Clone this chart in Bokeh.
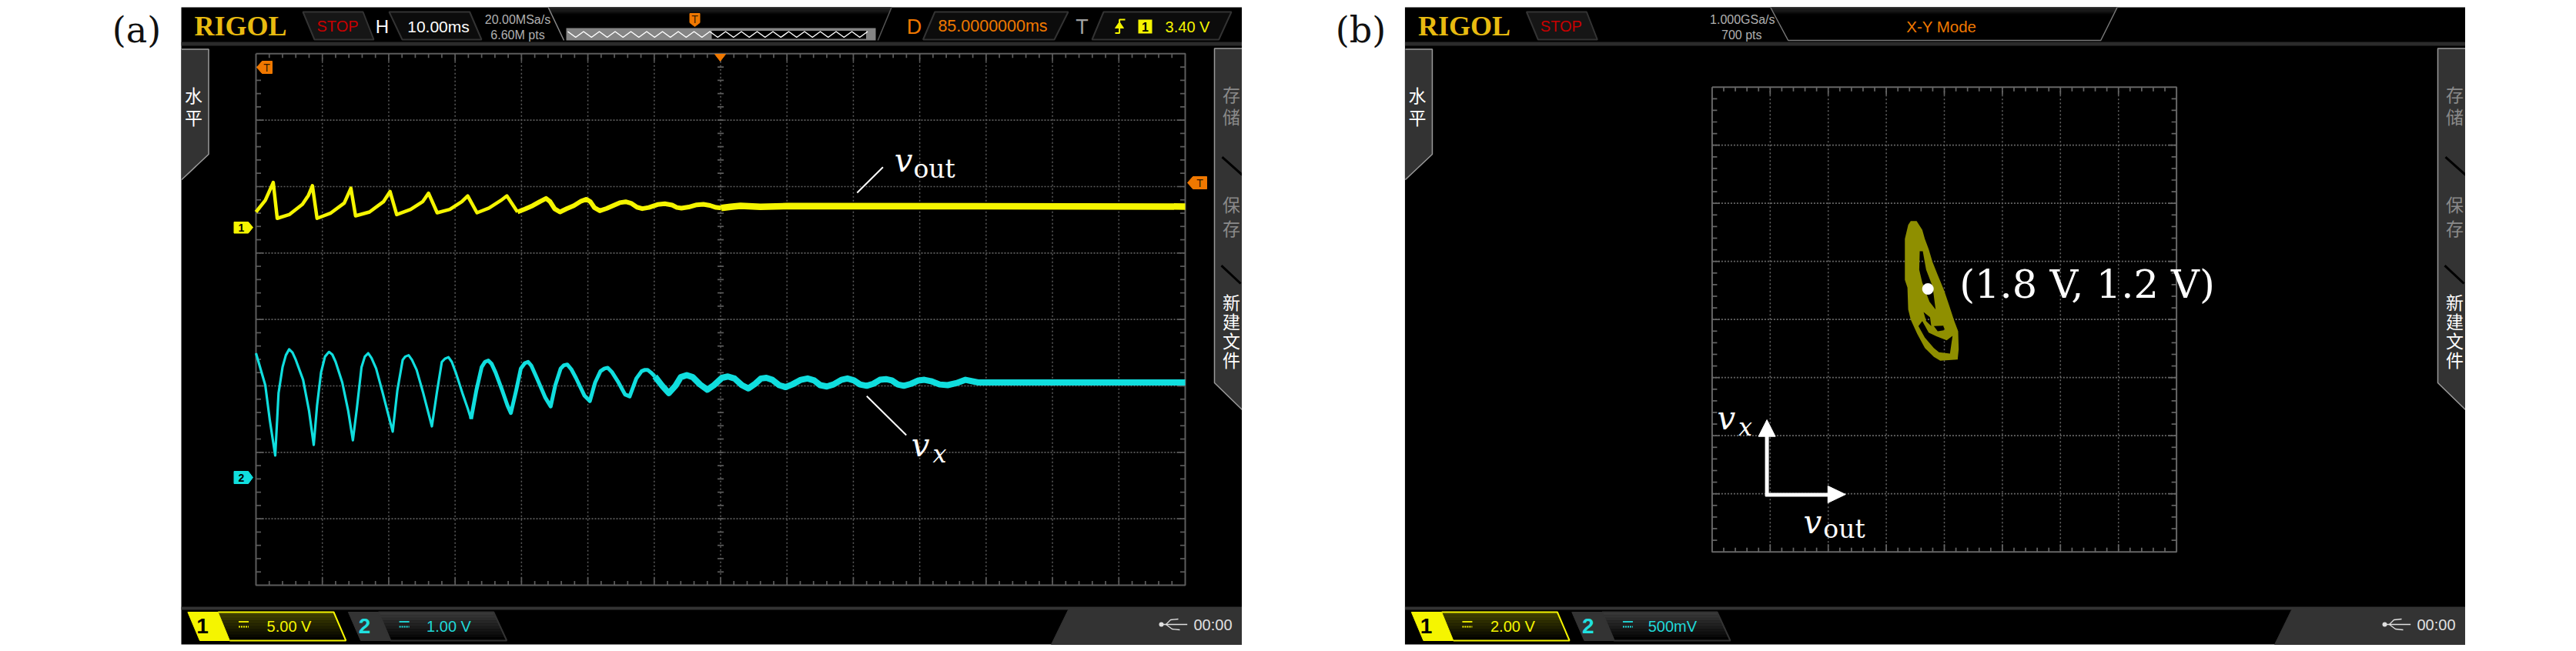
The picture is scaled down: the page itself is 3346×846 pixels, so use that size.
from bokeh.plotting import figure
from bokeh.models import Range1d
from bokeh.layouts import row
from bokeh.core.properties import value
from bokeh.embed import file_html
from bokeh.resources import INLINE
import numpy as np

# ---------- panel (a) time traces: time in ms, values in volts ----------
t_out = [15.0,16.4,17.6,18.2,20.0,22.0,22.9,23.5,24.2,26.2,28.3,29.3,30.0,32.1,34.2,35.2,36.2,38.3,40.1,41.0,
         42.3,44.2,46.0,46.9,48.3,50.1,51.9,52.8,
         54.4,55.5,56.7,57.8,58.7,59.3,60.0,60.8,61.8,62.9,64.0,64.8,65.4,66.0,66.8,67.8,68.8,69.8,70.7,71.5,
         72.4,73.2,74.2,75.5,76.6,77.7,78.4,79.1,80.2,81.4,82.4,83.4,84.3,85.1,86.5,88.0,91.0,95.0,155.0]
v_out = [1.16,2.03,3.38,0.68,0.96,1.74,2.41,3.14,0.68,1.06,1.83,2.95,0.87,1.16,1.93,2.70,0.96,1.35,1.93,2.57,
         1.10,1.35,1.93,2.37,1.10,1.45,2.03,2.37,
         1.16,1.38,1.64,1.95,2.18,1.95,1.40,1.16,1.40,1.64,1.98,2.12,1.92,1.48,1.25,1.42,1.64,1.86,1.93,1.82,
         1.52,1.41,1.50,1.72,1.78,1.68,1.50,1.45,1.53,1.70,1.74,1.65,1.50,1.46,1.55,1.62,1.55,1.60,1.57]
t_x = [15.0,16.4,17.1,17.9,18.4,19.0,19.5,20.0,20.5,21.0,22.1,23.0,23.7,24.2,24.8,25.4,26.0,26.5,27.0,28.0,28.9,29.6,30.2,30.9,
       31.4,31.9,32.4,33.1,34.1,34.9,35.6,36.3,37.1,37.5,38.0,38.5,39.2,40.2,40.9,41.5,42.3,43.0,43.5,44.0,44.5,45.1,46.1,46.9,47.4,48.2,
       49.0,49.5,50.0,50.5,51.1,52.1,52.9,53.4,54.2,54.9,55.5,56.0,56.5,57.3,58.6,59.4,60.1,60.9,61.4,61.9,62.5,63.2,64.5,65.3,66.1,66.9,
       67.5,68.0,68.6,69.5,70.6,71.3,72.3,73.1,73.6,74.0,74.5,75.1,76.2,77.2,78.2,79.0,79.9,80.8,81.9,83.0,84.0,85.2,86.1,87.1,88.2,89.2,
       90.2,91.1,91.9,92.8,93.8,94.8,95.8,97.1,98.1,99.1,100.0,101.0,102.0,103.2,104.1,105.1,106.0,107.0,108.0,109.0,109.9,110.8,111.7,
       112.6,113.7,114.8,115.7,116.7,118.0,119.2,120.5,121.9,123.8,155.0]
v_x = [1.87,1.39,0.85,0.33,1.27,1.66,1.84,1.93,1.88,1.77,1.47,1.00,0.49,1.08,1.58,1.82,1.89,1.85,1.74,1.43,1.00,0.56,1.04,1.66,
       1.82,1.87,1.80,1.64,1.27,0.96,0.69,1.31,1.77,1.82,1.84,1.77,1.62,1.27,1.00,0.77,1.31,1.74,1.79,1.81,1.74,1.58,1.27,1.04,0.88,1.31,
       1.66,1.74,1.76,1.71,1.58,1.31,1.08,0.97,1.31,1.64,1.72,1.74,1.68,1.50,1.20,1.07,1.39,1.64,1.69,1.70,1.63,1.50,1.23,1.15,1.43,1.60,
       1.64,1.65,1.59,1.45,1.25,1.22,1.49,1.60,1.62,1.62,1.58,1.52,1.38,1.27,1.38,1.51,1.54,1.51,1.40,1.32,1.39,1.50,1.52,1.49,1.39,1.34,
       1.41,1.49,1.50,1.47,1.39,1.36,1.40,1.47,1.49,1.46,1.39,1.37,1.40,1.47,1.49,1.46,1.40,1.38,1.41,1.47,1.48,1.46,1.40,
       1.38,1.41,1.46,1.47,1.45,1.40,1.39,1.42,1.47,1.43,1.43]

# ---------- panel (b) X-Y figure: volts on both axes ----------
xy_outer_x = [1.208,1.411,1.606,1.694,1.826,1.959,2.136,2.356,2.533,2.709,2.842,2.860,2.824,2.224,2.003,1.694,1.429,1.208,1.120,1.094,1.005,1.005,1.120]
xy_outer_y = [1.785,1.785,1.708,1.630,1.542,1.432,1.321,1.189,1.057,0.924,0.836,0.681,0.593,0.582,0.615,0.692,0.814,0.935,1.023,1.211,1.277,1.630,1.752]
xy_hole1_x = [1.517,1.623,1.738,1.959,2.065,1.853,1.606,1.500]
xy_hole1_y = [1.525,1.525,1.366,1.222,1.023,1.090,1.255,1.366]
xy_hole2_x = [1.473,1.694,2.003,2.180,2.559,2.648,2.445,2.091,1.826,1.606]
xy_hole2_y = [0.880,0.781,0.692,0.655,0.644,0.796,0.758,0.792,0.825,0.924]
xy_hole3_x = [2.003,2.330,2.383,2.136]
xy_hole3_y = [0.880,0.884,0.845,0.836]
xy_hole4_x = [1.650,1.871,1.915,1.738]
xy_hole4_y = [1.001,0.957,0.880,0.924]
xy_point = (1.8, 1.2)

# ---------- texts ----------
labels_a = dict(rate="20.00MSa/s", pts="6.60M pts", h="10.00ms", ch1="5.00 V", ch2="1.00 V")
labels_b = dict(rate="1.000GSa/s", pts="700 pts", mode="X-Y Mode", ch1="2.00 V", ch2="500mV")

YEL = "#f5f500"
CYA = "#10dede"
ORG = "#f07800"
GRY = "#5c5c5c"
SANS = "Liberation Sans"
SERIF = "Liberation Serif"
DJV = "DejaVu Serif"
CJK = "Noto Sans CJK SC"

# black screen in page px: x 235..1613, y 9..837 (chrome is laid out in these px)
FX0, FX1, FY0, FY1 = 235.0, 1613.0, 9.0, 837.0
PAGE_H = 838.0


def base(view_x0):
    p = figure(width=int(FX1 - view_x0), height=int(PAGE_H), toolbar_location=None, output_backend="svg",
               x_range=Range1d(view_x0, FX1), y_range=Range1d(PAGE_H, 0), x_axis_type=None, y_axis_type=None,
               min_border_left=0, min_border_right=0, min_border_top=0, min_border_bottom=0,
               background_fill_color="white", border_fill_color="white", outline_line_color=None)
    p.grid.visible = False
    p.quad(left=[FX0], right=[FX1], top=[FY0], bottom=[FY1], fill_color="black", line_color=None)
    return p


def T(p, x, y, s, size, color, font=SANS, align="center", base_="middle", style="normal"):
    if base_ == "alphabetic":
        y = y - 0.28 * size      # measured offset of the rendered baseline
    p.text([x], [y], text=[s], text_font=value(font), text_font_size=f"{size}px", text_color=color,
           text_align=align, text_baseline=base_, text_font_style=style)


def poly(p, xs, ys, fill, line=None, lw=1):
    p.patch(xs, ys, fill_color=fill, line_color=line if line else fill, line_width=lw)


def strips(p, xl0, xr0, xl1, xr1, y0, y1, c0, c1, n=10):
    """Vertical colour fade inside a trapezoid (no gradients on bokeh patches)."""
    a0, a1 = np.array(c0, float), np.array(c1, float)
    for i in range(n):
        f0, f1 = i / n, (i + 1) / n
        c = a0 + (a1 - a0) * (i + 0.5) / n
        col = "#%02x%02x%02x" % tuple(int(v) for v in c)
        ya, yb = y0 + (y1 - y0) * f0, y0 + (y1 - y0) * f1
        xla, xlb = xl0 + (xl1 - xl0) * f0, xl0 + (xl1 - xl0) * f1
        xra, xrb = xr0 + (xr1 - xr0) * f0, xr0 + (xr1 - xr0) * f1
        p.patch([xla, xra, xrb, xlb], [ya, ya, yb, yb], fill_color=col, line_color=col, line_width=0.5)


def scope_grid(p, L, Tp, R, B, nx, ny, center_ticks=False, col=GRY):
    dx, dy = (R - L) / nx, (B - Tp) / ny
    xs = [L + dx * k for k in range(1, nx)]
    ys = [Tp + dy * k for k in range(1, ny)]
    p.segment(xs, [Tp] * len(xs), xs, [B] * len(xs), line_color=col, line_width=1.5, line_dash="2 3")
    p.segment([L] * len(ys), ys, [R] * len(ys), ys, line_color=col, line_width=1.7, line_dash="2 2")
    mx = [L + dx / 5 * k for k in range(1, nx * 5)]
    my = [Tp + dy / 5 * k for k in range(1, ny * 5)]
    lenx = [10 if k % 5 == 0 else 5.5 for k in range(1, nx * 5)]
    leny = [10 if k % 5 == 0 else 6.5 for k in range(1, ny * 5)]
    p.segment(mx, [Tp] * len(mx), mx, [Tp + v for v in lenx], line_color=col, line_width=1.7)
    p.segment(mx, [B] * len(mx), mx, [B - v for v in lenx], line_color=col, line_width=1.7)
    p.segment([L] * len(my), my, [L + v for v in leny], my, line_color=col, line_width=1.7)
    p.segment([R] * len(my), my, [R - v for v in leny], my, line_color=col, line_width=1.7)
    if center_ticks:
        cx = L + dx * nx / 2
        p.segment([cx - 4] * len(my), my, [cx + 4] * len(my), my, line_color=col, line_width=1.7)
    p.line([L, R, R, L, L], [Tp, Tp, B, B, Tp], line_color=col, line_width=2)


def chrome(p, lab):
    p.quad(left=[FX0], right=[FX1], top=[54], bottom=[59], fill_color="#2b2b2b", line_color=None)
    p.quad(left=[FX0], right=[FX1], top=[788], bottom=[792], fill_color="#333333", line_color=None)
    T(p, 252, 33, "RIGOL", 36, "#e8bb10", SERIF, "left", "middle", "bold")
    poly(p, [393, 471, 485, 408], [15, 15, 51, 51], "#161616", "#333333", 2)
    T(p, 438, 33.5, "STOP", 20, "#c80000")
    poly(p, [FX0 + 0.5, 270.5, 270.5, FX0 + 0.5], [63.5, 63.5, 200, 233], "#333333", "#333333")
    p.line([FX0 + 0.5, 270.5, 270.5, FX0 + 0.5], [63.5, 63.5, 200, 233], line_color="#999999", line_width=1.5)
    T(p, 251, 122, "水", 23, "white", CJK)
    T(p, 251, 151, "平", 23, "white", CJK)
    poly(p, [1577, FX1, FX1, 1577], [62.5, 62.5, 532, 497], "#333333", "#333333")
    p.line([FX1, 1577, 1577, FX1], [62.5, 62.5, 497, 532], line_color="#999999", line_width=1.5)
    p.line([1587, 1613], [203.6, 226.8], line_color="#000000", line_width=3)
    p.line([1586, 1611], [344.6, 368], line_color="#000000", line_width=3)
    for yy, ch, col in [(121, "存", "#8a8a8a"), (150, "储", "#8a8a8a"), (264, "保", "#8a8a8a"), (295, "存", "#8a8a8a"),
                        (391, "新", "white"), (416, "建", "white"), (441, "文", "white"), (466, "件", "white")]:
        T(p, 1599, yy, ch, 23, col, CJK)
    strips(p, 282.7, 433, 297.9, 448.8, 795, 832, (70, 70, 0), (0, 0, 0))
    p.line([282.7, 433, 448.8, 297.9], [795, 795, 832, 832], line_color=YEL, line_width=2)
    poly(p, [243.4, 282.7, 297.9, 259], [795, 795, 832, 832], YEL)
    T(p, 262.5, 813, "1", 28, "black", SANS, style="bold")
    poly(p, [451.9, 491, 506.8, 468], [795, 795, 832, 832], "#333333")
    strips(p, 491, 640.7, 506.8, 657.7, 795, 832, (60, 60, 60), (0, 0, 0))
    p.line([491, 640.7, 657.7, 506.8, 491], [795, 795, 832, 832, 795], line_color="#333333", line_width=2)
    T(p, 473, 813, "2", 28, "#20e0e0", SANS, style="bold")
    for cx, col in [(316, YEL), (524.6, "#20e0e0")]:
        p.line([cx - 6.5, cx + 6.5], [807.5, 807.5], line_color=col, line_width=1.8)
        p.line([cx - 6.5, cx + 6.5], [814, 814], line_color=col, line_width=1.8, line_dash="2 1")
    T(p, 375, 813, lab["ch1"], 20, YEL)
    T(p, 582.5, 813, lab["ch2"], 20, "#20d8d8")
    poly(p, [1387, FX1, FX1, 1365], [792, 792, 837, 837], "#333333")
    p.circle([1508], [811], radius=3, fill_color="#e0e0e0", line_color=None)
    p.line([1508, 1541.7], [811, 811], line_color="#e0e0e0", line_width=1.5)
    p.line([1514, 1520, 1530], [811, 805, 804], line_color="#e0e0e0", line_width=1.3)
    p.line([1514, 1522, 1532], [811, 817, 818], line_color="#e0e0e0", line_width=1.3)
    T(p, 1575, 811.5, "00:00", 20, "#e0e0e0")


def trace_parts(p, t, v, cuts, widths, color, yname):
    t, v = np.array(t), np.array(v)
    idx = [0] + [int(np.searchsorted(t, c)) for c in cuts] + [len(t) - 1]
    for a, b, w in zip(idx[:-1], idx[1:], widths):
        p.line(t[a:b + 1], v[a:b + 1], x_range_name="ms", y_range_name=yname, line_color=color,
               line_width=w, line_join="round", line_cap="butt")


# =============== panel (a) ===============
pa = base(0.0)
A_VX0, A_VX1 = 0.0, FX1
A_L, A_T, A_R, A_B = 332.0, 69.3, 1539.0, 760.0
px_ms = (A_R - A_L) / 140.0      # 10 ms/div, 14 div, centre at 85 ms
px_div = (A_B - A_T) / 8.0
G1, G2 = 295.0, 620.0            # channel ground markers, page px
pa.extra_x_ranges = {"ms": Range1d(15 + (A_VX0 - A_L) / px_ms, 15 + (A_VX1 - A_L) / px_ms)}
pa.extra_y_ranges = {
    "ch1": Range1d((G1 - PAGE_H) / px_div * 5.0, G1 / px_div * 5.0),   # 5 V/div
    "ch2": Range1d((G2 - PAGE_H) / px_div * 1.0, G2 / px_div * 1.0),   # 1 V/div
}
T(pa, 177, 38, "(a)", 46, "#111111", DJV)
chrome(pa, labels_a)
scope_grid(pa, A_L, A_T, A_R, A_B, 14, 8, center_ticks=True)
strips(pa, 711.6, 1157.6, 715, 1154.6, 9, 20, (46, 46, 46), (0, 0, 0))
pa.line([711.6, 732], [9, 52], line_color="#888888", line_width=1.5)
pa.line([1157.6, 1139.8], [9, 52], line_color="#555555", line_width=1.5)
T(pa, 496, 34, "H", 24, "white", SANS)
poly(pa, [505, 609.6, 625, 522], [15, 15, 51, 51], "#0c0c0c", "#333333", 2)
T(pa, 569, 33.5, labels_a["h"], 21, "white")
T(pa, 672, 25, labels_a["rate"], 16, "#b0b0b0")
T(pa, 672, 44.5, labels_a["pts"], 16, "#b0b0b0")
pa.quad(left=[735], right=[1137], top=[36], bottom=[52], fill_color="#858585", line_color=None)
pa.quad(left=[924], right=[1124.5], top=[39.5], bottom=[50], fill_color="#000000", line_color=None)
wx = np.arange(737, 1134, 10.25)
wy = [40.5 if i % 2 == 0 else 48 for i in range(len(wx))]
pa.line(wx, wy, line_color="white", line_width=1.5)
poly(pa, [895.5, 908.5, 908.5, 902, 895.5], [17, 17, 29, 34, 29], ORG)
T(pa, 902, 24, "T", 14, "#402000", SANS)
T(pa, 1187, 34, "D", 27, ORG, SANS)
poly(pa, [1213.8, 1387, 1369, 1198.5], [15, 15, 51, 51], "#0c0c0c", "#333333", 2)
T(pa, 1289, 33.5, "85.0000000ms", 21.5, ORG)
T(pa, 1405, 34, "T", 27, "#a0a0a0", SANS)
poly(pa, [1433, 1599, 1582.6, 1418], [15, 15, 51, 51], "#0c0c0c", "#333333", 2)
pa.line([1448, 1453.6, 1453.6, 1461], [42.5, 42.5, 25, 25], line_color=YEL, line_width=2)
poly(pa, [1448, 1459, 1453.6], [36, 36, 28], YEL)
pa.quad(left=[1478], right=[1496], top=[25], bottom=[43], fill_color=YEL, line_color=None)
T(pa, 1487, 34, "1", 16, "black", SANS, style="bold")
T(pa, 1542, 34, "3.40 V", 20, YEL)
poly(pa, [333, 340, 353, 353, 340], [87, 79, 79, 95, 95], ORG)
T(pa, 346, 87.5, "T", 14, "#301800", SANS)
poly(pa, [1542, 1549, 1567, 1567, 1549], [237, 229, 229, 245, 245], ORG)
T(pa, 1558, 237.5, "T", 14, "#301800", SANS)
poly(pa, [928, 942, 935], [70, 70, 79], ORG)
poly(pa, [303.5, 322, 328, 322, 303.5], [288, 288, 295, 302.5, 302.5], YEL)
T(pa, 313, 295.5, "1", 14, "black", SANS, style="bold")
poly(pa, [303.5, 322, 328, 322, 303.5], [612, 612, 620, 628, 628], CYA)
T(pa, 313, 620.5, "2", 14, "black", SANS, style="bold")
trace_parts(pa, t_out, v_out, [54.4, 85.1], [4.5, 6.0, 8.5], YEL, "ch1")
trace_parts(pa, t_x, v_x, [47.4, 75.1], [3.2, 5.0, 8.0], CYA, "ch2")
pa.line([1146.4, 1112.8], [216.7, 250], line_color="white", line_width=2)
T(pa, 1173, 220, "v", 42, "white", DJV, "center", "alphabetic", "italic")
T(pa, 1186, 228.5, "out", 33, "white", DJV, "left", "alphabetic")
pa.line([1125.3, 1176.7], [514.3, 565], line_color="white", line_width=2)
T(pa, 1195, 590, "v", 42, "white", DJV, "center", "alphabetic", "italic")
T(pa, 1220, 598, "x", 32, "white", DJV, "center", "alphabetic", "italic")

# =============== panel (b) ===============
B_OFF = 1589.5
B_VX0 = FX1 - (3202.5 - 1613.0)       # figure (b) starts where figure (a) ends on the page
pb = base(B_VX0)
S_L, S_T, S_R, S_B = 2223.6 - B_OFF, 112.7, 2827.0 - B_OFF, 716.7
px_v_x = (S_R - S_L) / 8.0 / 2.0   # 2 V/div on channel 1
px_v_y = (S_B - S_T) / 8.0 / 0.5   # 500 mV/div on channel 2
DOT_X, DOT_Y = 2504.0 - B_OFF, 375.0
pb.extra_x_ranges = {"vout": Range1d(xy_point[0] + (B_VX0 - DOT_X) / px_v_x, xy_point[0] + (FX1 - DOT_X) / px_v_x)}
pb.extra_y_ranges = {"vx": Range1d(xy_point[1] - (PAGE_H - DOT_Y) / px_v_y, xy_point[1] + DOT_Y / px_v_y)}
T(pb, 1767 - B_OFF, 38, "(b)", 46, "#111111", DJV)
chrome(pb, labels_b)
scope_grid(pb, S_L, S_T, S_R, S_B, 8, 8, col="#666666")
strips(pb, 2299.4 - B_OFF, 2750 - B_OFF, 2305 - B_OFF, 2745 - B_OFF, 9, 20, (46, 46, 46), (0, 0, 0))
pb.line([2299.4 - B_OFF, 2322.4 - B_OFF, 2728.6 - B_OFF, 2750 - B_OFF], [9, 52, 52, 9], line_color="#777777", line_width=1.5)
T(pb, 2263 - B_OFF, 25, labels_b["rate"], 16, "#b0b0b0")
T(pb, 2262 - B_OFF, 44.5, labels_b["pts"], 16, "#b0b0b0")
T(pb, 2521.6 - B_OFF, 33.5, labels_b["mode"], 20.5, ORG)
pb.multi_polygons(
    xs=[[[xy_outer_x, xy_hole1_x, xy_hole2_x, xy_hole3_x, xy_hole4_x]]],
    ys=[[[xy_outer_y, xy_hole1_y, xy_hole2_y, xy_hole3_y, xy_hole4_y]]],
    x_range_name="vout", y_range_name="vx", fill_color="#8f8f00", line_color=None)
pb.scatter([xy_point[0]], [xy_point[1]], x_range_name="vout", y_range_name="vx", size=15, marker="circle",
           fill_color="white", line_color=None)
T(pb, 2545 - B_OFF, 383, "(1.8 V, 1.2 V)", 51, "white", DJV, "left", "alphabetic")
AX, AY = 2294.8 - B_OFF, 642.5
pb.line([AX, AX], [AY + 2, 566], line_color="white", line_width=5)
poly(pb, [AX - 11, AX + 11, AX], [566.7, 566.7, 545], "white")
pb.line([AX - 2, 2375 - B_OFF], [AY, AY], line_color="white", line_width=5)
poly(pb, [2374 - B_OFF, 2374 - B_OFF, 2397 - B_OFF], [631, 653, 642], "white")
T(pb, 2242 - B_OFF, 555, "v", 42, "white", DJV, "center", "alphabetic", "italic")
T(pb, 2266.7 - B_OFF, 563, "x", 32, "white", DJV, "center", "alphabetic", "italic")
T(pb, 2354 - B_OFF, 690, "v", 42, "white", DJV, "center", "alphabetic", "italic")
T(pb, 2368 - B_OFF, 696, "out", 33, "white", DJV, "left", "alphabetic")

assert len(t_out) == len(v_out) and len(t_x) == len(v_x)
layout = row(pa, pb, spacing=0)
open("out.html", "w").write(file_html(layout, INLINE))
